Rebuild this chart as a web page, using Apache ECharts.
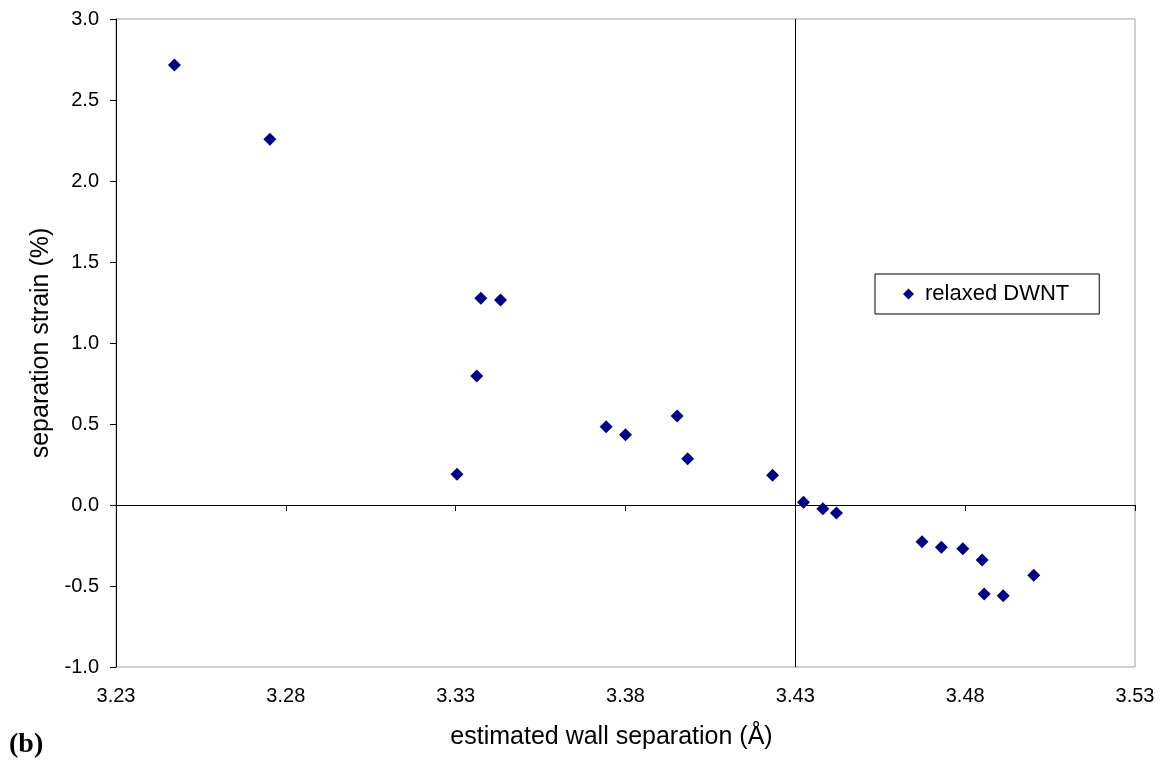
<!DOCTYPE html>
<html>
<head>
<meta charset="utf-8">
<script src="https://cdn.jsdelivr.net/npm/echarts@6/dist/echarts.min.js"></script>
<style>html,body{margin:0;padding:0;background:#fff}#c{width:1161px;height:764px}</style>
</head>
<body>
<div id="c"></div>
<script>
const seriesName = 'relaxed DWNT';
const wallSeparation = [3.2472, 3.2753, 3.3304, 3.3362, 3.3374, 3.3432, 3.3743, 3.3800, 3.3952, 3.3983, 3.4233, 3.4324, 3.4381, 3.4421, 3.4673, 3.4730, 3.4793, 3.4850, 3.4856, 3.4912, 3.5002];
const separationStrain = [2.716, 2.257, 0.190, 0.796, 1.276, 1.265, 0.483, 0.434, 0.549, 0.286, 0.183, 0.017, -0.023, -0.049, -0.227, -0.261, -0.270, -0.340, -0.549, -0.560, -0.434];
const xTicks = [3.23, 3.28, 3.33, 3.38, 3.43, 3.48, 3.53];
const yTicks = [-1.0, -0.5, 0.0, 0.5, 1.0, 1.5, 2.0, 2.5, 3.0];
const xCross = 3.43;
const xTitle = 'estimated wall separation (Å)';
const yTitle = 'separation strain (%)';
const panelLabel = '(b)';

const FONT = "'Liberation Sans', Arial, sans-serif";
const points = wallSeparation.map((x, i) => [x, separationStrain[i]]);
const chart = echarts.init(document.getElementById('c'), null, {renderer: 'canvas'});
chart.setOption({
  animation: false,
  backgroundColor: '#fff',
  textStyle: {fontFamily: FONT},
  grid: {left: 116, right: 26, top: 19, bottom: 97, containLabel: false, outerBoundsMode: 'none',
         show: true, borderColor: '#a0a0a0', borderWidth: 1, backgroundColor: 'transparent'},
  legend: {
    data: [seriesName], left: 875, top: 274, orient: 'horizontal',
    icon: 'diamond', itemWidth: 11, itemHeight: 11,
    itemStyle: {opacity: 1, color: '#000080'},
    borderColor: '#000', borderWidth: 1, padding: [9, 30, 9, 28],
    textStyle: {fontSize: 22, color: '#000', fontFamily: FONT, padding: [0, 0, 0, 6]}
  },
  xAxis: [{
    type: 'value', min: xTicks[0], max: xTicks[xTicks.length - 1], position: 'bottom',
    axisLine: {show: false, onZero: false},
    axisTick: {show: false},
    splitLine: {show: false},
    axisLabel: {customValues: xTicks, fontSize: 20, color: '#000', margin: 19, fontFamily: FONT,
                formatter: v => v.toFixed(2)},
    name: xTitle, nameLocation: 'middle', nameGap: 58,
    nameTextStyle: {fontSize: 25, color: '#000', fontFamily: FONT, padding: [0, 28, 0, 0]}
  }, {
    type: 'value', min: xTicks[0], max: xTicks[xTicks.length - 1], position: 'bottom',
    axisLine: {show: true, onZero: true, onZeroAxisIndex: 0, lineStyle: {color: '#000', width: 1}},
    axisTick: {show: true, customValues: xTicks, length: 6, inside: false, lineStyle: {color: '#000'}},
    axisLabel: {show: false},
    splitLine: {show: false}
  }],
  yAxis: {
    type: 'value', min: yTicks[0], max: yTicks[yTicks.length - 1], interval: 0.5,
    axisLine: {show: true, onZero: false, lineStyle: {color: '#000', width: 1}},
    axisTick: {show: true, length: 6, lineStyle: {color: '#000'}},
    splitLine: {show: false},
    axisLabel: {fontSize: 20, color: '#000', margin: 17, fontFamily: FONT, formatter: v => v.toFixed(1)},
    name: yTitle, nameLocation: 'middle', nameGap: 62,
    nameTextStyle: {fontSize: 25, color: '#000', fontFamily: FONT}
  },
  graphic: [{
    type: 'text', left: 9, top: 731,
    style: {text: panelLabel, font: "bold 28px 'Liberation Serif', 'Times New Roman', serif", fill: '#000'}
  }],
  series: [{
    name: seriesName, type: 'scatter', xAxisIndex: 0, yAxisIndex: 0,
    symbol: 'diamond', symbolSize: 13,
    itemStyle: {color: '#000080', opacity: 1},
    data: points,
    markLine: {
      silent: true, symbol: 'none', animation: false,
      label: {show: false},
      lineStyle: {color: '#000', width: 1, type: 'solid'},
      data: [{xAxis: xCross}]
    }
  }]
});
</script>
</body>
</html>
